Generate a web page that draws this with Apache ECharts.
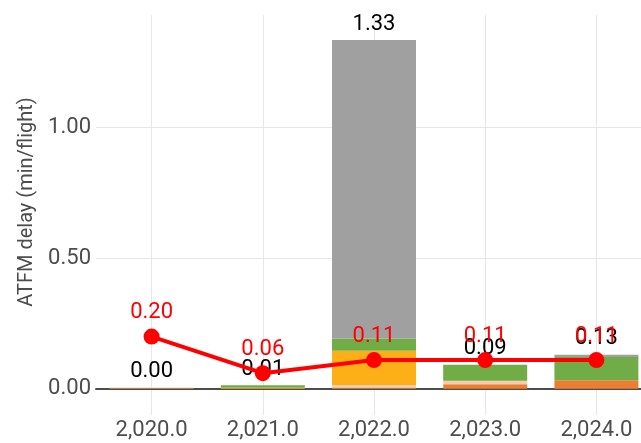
<!DOCTYPE html>
<html>
<head>
<meta charset="utf-8">
<script src="https://cdn.jsdelivr.net/npm/echarts@6/dist/echarts.min.js"></script>
<style>
  html, body { margin: 0; padding: 0; background: #fff; overflow: hidden; }
  /* plot runs a little past the right edge of the window, as in the source image */
  #chart { width: 652px; height: 443px; }
</style>
</head>
<body>
<div id="chart"></div>
<script>
// years on the x axis
const years = [2020, 2021, 2022, 2023, 2024]

// stacked delay components (min/flight), bottom to top
const orangeVals = [0.0024, 0, 0.005, 0.018, 0.033]
const peachVals = [0.0024, 0, 0.010, 0.013, 0]
const amberVals = [0, 0.004, 0.131, 0, 0]
const greenVals = [0, 0.010, 0.047, 0.061, 0.089]
const greyVals = [0, 0, 1.141, 0, 0.008]

// red line
const lineVals = [0.20, 0.06, 0.11, 0.11, 0.11]

const stacks = [
  { name: 'orange', color: '#ED7D31', data: orangeVals },
  { name: 'peach', color: '#F8CBAD', data: peachVals },
  { name: 'amber', color: '#FCAF17', data: amberVals },
  { name: 'green', color: '#70AD47', data: greenVals },
  { name: 'grey', color: '#A0A0A0', data: greyVals }
]

const totals = years.map((_, i) => stacks.reduce((s, st) => s + st.data[i], 0))

const fmtYear = (v) => v.toLocaleString('en-US', { minimumFractionDigits: 1, maximumFractionDigits: 1 })

// bars and line sit on a hidden category axis; the visible value axis only draws labels/grid
const barSeries = stacks.map((st, idx) => ({
  name: st.name,
  type: 'bar',
  stack: 'delay',
  xAxisIndex: 1,
  barWidth: 84,
  color: st.color,
  data: st.data,
  label: idx === stacks.length - 1 ? {
    show: true,
    position: 'top',
    distance: 5,
    color: '#000',
    fontSize: 22,
    fontFamily: 'Roboto',
    formatter: (p) => totals[p.dataIndex].toFixed(2)
  } : { show: false }
}))

const chart = echarts.init(document.getElementById('chart'))
chart.setOption({
  animation: false,
  grid: { left: 96, right: 0, top: 15, bottom: 28 },
  xAxis: [
    {
      type: 'value',
      min: 2019.5,
      max: 2024.5,
      minInterval: 1,
      maxInterval: 1,
      axisLine: { onZero: true, lineStyle: { color: '#4d4d4d', width: 2 } },
      axisTick: { show: false },
      axisLabel: {
        color: '#4d4d4d', fontSize: 22, fontFamily: 'Roboto', margin: 4,
        showMinLabel: false, showMaxLabel: false,
        formatter: fmtYear
      },
      splitLine: { show: true, showMinLine: false, showMaxLine: false, lineStyle: { color: '#e6e6e6', width: 1 } }
    },
    {
      type: 'category',
      data: years,
      boundaryGap: true,
      show: false
    }
  ],
  yAxis: {
    type: 'value',
    min: -0.1,
    max: 1.43,
    minInterval: 0.5,
    maxInterval: 0.5,
    name: 'ATFM delay (min/flight)',
    nameLocation: 'middle',
    nameGap: 58,
    nameTextStyle: { color: '#4d4d4d', fontSize: 20, fontFamily: 'Roboto', padding: [0, 0, 0, 26] },
    axisLine: { show: false },
    axisTick: { show: false },
    axisLabel: {
      color: '#4d4d4d', fontSize: 22, fontFamily: 'Roboto', margin: 5,
      showMinLabel: false, showMaxLabel: false,
      formatter: (v) => v.toFixed(2)
    },
    splitLine: { show: true, showMinLine: false, showMaxLine: false, lineStyle: { color: '#e6e6e6', width: 1 } }
  },
  series: [
    ...barSeries,
    {
      name: 'line',
      type: 'line',
      xAxisIndex: 1,
      data: lineVals,
      color: '#FF0000',
      symbol: 'circle',
      symbolSize: 16,
      lineStyle: { width: 4, color: '#FF0000' },
      label: {
        show: true,
        position: 'top',
        distance: 5,
        color: '#FF0000',
        fontSize: 22,
        fontFamily: 'Roboto',
        formatter: (p) => p.value.toFixed(2)
      },
      z: 3
    }
  ]
})
</script>
</body>
</html>
